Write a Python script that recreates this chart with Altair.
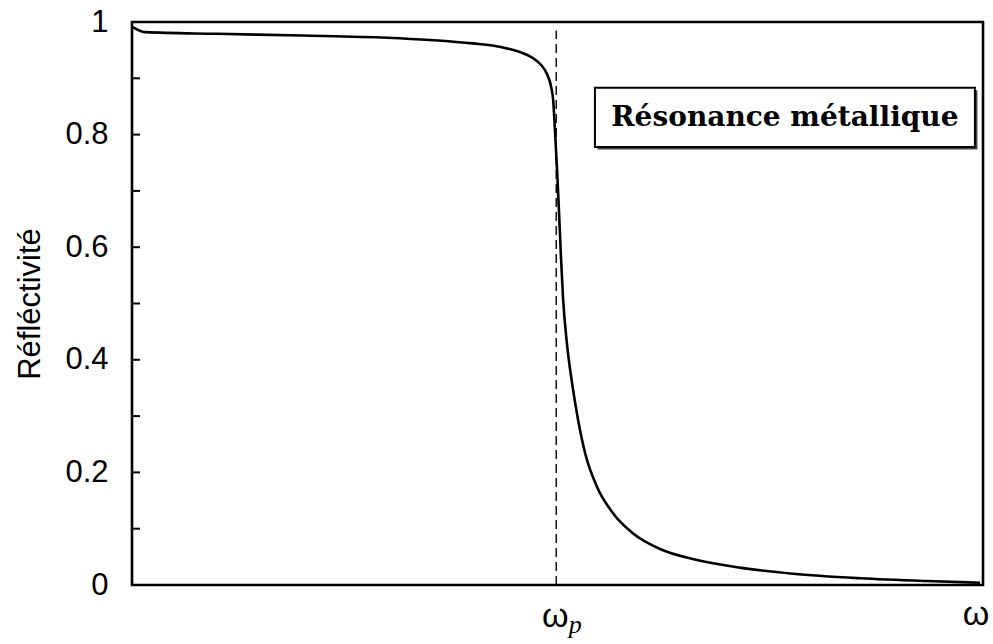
import altair as alt
import pandas as pd

# Reflectivity of a metal versus frequency (omega in units where omega_p ~ 1)
omega = [0.002, 0.03, 0.2, 0.4, 0.6, 0.7, 0.8, 0.87, 0.91, 0.94,
         0.96, 0.975, 0.985, 0.99, 0.994, 0.999, 1.004, 1.008, 1.013, 1.022,
         1.034, 1.048, 1.065, 1.093, 1.130, 1.177, 1.241, 1.318, 1.436, 1.553,
         1.711, 1.868, 1.993]
reflectivity = [0.991, 0.982, 0.979, 0.976, 0.972, 0.968, 0.962, 0.955, 0.947, 0.937,
                0.925, 0.908, 0.885, 0.860, 0.808, 0.737, 0.655, 0.585, 0.510, 0.430,
                0.360, 0.295, 0.234, 0.174, 0.128, 0.092, 0.064, 0.046, 0.030, 0.020,
                0.012, 0.007, 0.004]

omega_p = 0.997
minor_ticks = [0.0, 0.1, 0.2, 0.3, 0.4, 0.5, 0.6, 0.7, 0.8, 0.9, 1.0]
label_ticks = [0.0, 0.2, 0.4, 0.6, 0.8, 1.0]
annotation = "Résonance métallique"

W, H = 851, 563
x_scale = alt.Scale(domain=[0, 2], nice=False, zero=False)
y_scale = alt.Scale(domain=[0, 1], nice=False, zero=False)

curve_df = pd.DataFrame({"omega": omega, "R": reflectivity})

curve = alt.Chart(curve_df).mark_line(
    color="black", strokeWidth=2.6, interpolate="monotone"
).encode(
    x=alt.X("omega:Q", scale=x_scale, axis=None),
    y=alt.Y(
        "R:Q", scale=y_scale,
        axis=alt.Axis(
            values=label_ticks, ticks=False, tickSize=0, domain=False, grid=False,
            labelExpr="datum.value == 0 ? '0' : datum.value == 1 ? '1' : format(datum.value, '.1f')",
            labelFont="Liberation Sans", labelFontSize=31, labelColor="black",
            labelPadding=24, title="Réfléctivité", titleFont="Liberation Sans",
            titleFontSize=31, titleFontWeight="normal", titleColor="black",
            titlePadding=18,
        ),
    ),
)

# inward minor ticks on the left frame
ticks = alt.Chart(pd.DataFrame({"t": minor_ticks})).mark_rule(
    color="black", strokeWidth=2
).encode(
    y=alt.Y("t:Q", scale=y_scale),
    x=alt.value(0),
    x2=alt.value(8),
)

# plasma frequency marker
vline = alt.Chart(pd.DataFrame({"x": [omega_p], "y0": [0.0], "y1": [0.985]})).mark_rule(
    color="black", strokeWidth=1.4, strokeDash=[9, 5]
).encode(
    x=alt.X("x:Q", scale=x_scale, axis=None),
    y=alt.Y("y0:Q", scale=y_scale),
    y2="y1:Q",
)

# x labels: omega_p and omega
lbl_omega_p = alt.Chart(pd.DataFrame({"x": [omega_p], "s": ["ω"]})).mark_text(
    font="Liberation Sans", fontSize=34, color="black", baseline="alphabetic",
    align="center", dx=-1
).encode(x=alt.X("x:Q", scale=x_scale, axis=None), y=alt.value(H + 42), text="s:N")

lbl_omega = alt.Chart(pd.DataFrame({"x": [2.0], "s": ["ω"]})).mark_text(
    font="Liberation Sans", fontSize=34, color="black", baseline="alphabetic",
    align="center", dx=-7
).encode(x=alt.X("x:Q", scale=x_scale, axis=None), y=alt.value(H + 40), text="s:N")

lbl_sub = alt.Chart(pd.DataFrame({"x": [omega_p], "s": ["p"]})).mark_text(
    font="Liberation Serif", fontSize=26, fontStyle="italic", color="black",
    baseline="alphabetic", align="center", dx=19
).encode(x=alt.X("x:Q", scale=x_scale, axis=None), y=alt.value(H + 48), text="s:N")

# framed annotation with a small drop shadow
box = dict(x0=1.088, x1=1.981, y0=0.778, y1=0.883)
sx, sy = 2.5 / (W / 2), 2.5 / H
shadow = alt.Chart(pd.DataFrame({"a": [box["x0"] + sx], "b": [box["x1"] + sx],
                                 "c": [box["y0"] - sy], "d": [box["y1"] - sy]})).mark_rect(
    fill="#444444"
).encode(
    x=alt.X("a:Q", scale=x_scale, axis=None), x2="b:Q",
    y=alt.Y("c:Q", scale=y_scale), y2="d:Q",
)
frame = alt.Chart(pd.DataFrame({"a": [box["x0"]], "b": [box["x1"]],
                                "c": [box["y0"]], "d": [box["y1"]]})).mark_rect(
    fill="white", stroke="black", strokeWidth=2
).encode(
    x=alt.X("a:Q", scale=x_scale, axis=None), x2="b:Q",
    y=alt.Y("c:Q", scale=y_scale), y2="d:Q",
)
label = alt.Chart(pd.DataFrame({"x": [(box["x0"] + box["x1"]) / 2],
                                "y": [(box["y0"] + box["y1"]) / 2], "s": [annotation]})).mark_text(
    font="DejaVu Serif", fontWeight="bold", fontSize=28, color="black",
    align="center", baseline="middle", dy=1
).encode(
    x=alt.X("x:Q", scale=x_scale, axis=None),
    y=alt.Y("y:Q", scale=y_scale),
    text="s:N",
)

chart = alt.layer(
    curve, vline, ticks, shadow, frame, label, lbl_omega_p, lbl_omega, lbl_sub
).properties(
    width=W, height=H,
    background="white",
    autosize=alt.AutoSizeParams(type="none"),
    padding={"left": 132, "top": 22, "right": 10, "bottom": 59},
).configure_view(
    stroke="black", strokeWidth=2.6
)

chart.save("out.html", embed_options={"renderer": "svg", "actions": False})
